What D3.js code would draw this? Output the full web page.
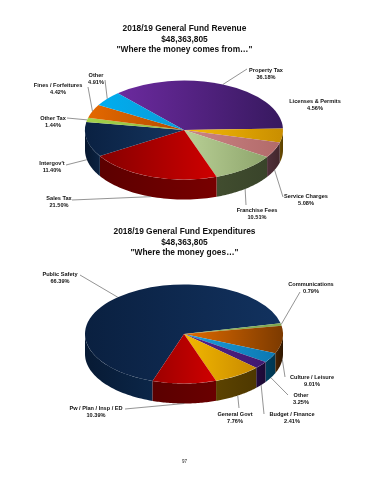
<!DOCTYPE html>
<html>
<head>
<meta charset="utf-8">
<style>
html,body{margin:0;padding:0;background:#fff;}
svg{display:block;filter:blur(0.35px);}
text{font-family:"Liberation Sans",Arial,sans-serif;font-weight:bold;fill:#111;text-anchor:middle;}
</style>
<script src="https://cdn.jsdelivr.net/npm/d3@7"></script>
</head>
<body>
<div id="chart"></div>
<script>
// revenue pie
const revenueNames = ["Property Tax","Licenses & Permits","Service Charges","Franchise Fees","Sales Tax","Intergov't","Other Tax","Fines / Forfeitures","Other"];
const revenueValues = [36.18,4.56,5.08,10.51,21.50,11.40,1.44,4.42,4.91];
const revenueTitle = ["2018/19 General Fund Revenue","$48,363,805","\"Where the money comes from…\""];

// expenditure pie
const expenseNames = ["Public Safety","Communications","Culture / Leisure","Other","Budget / Finance","General Govt","Pw / Plan / Insp / ED"];
const expenseValues = [66.39,0.79,9.01,3.25,2.41,7.76,10.39];
const expenseTitle = ["2018/19 General Fund Expenditures","$48,363,805","\"Where the money goes…\""];

const pageNumber = "97";

// [top face left, top face right, wall left, wall right]
const revenueColors = [
  ["#6c2a9f","#37195f","#2a1248","#2a1248"],
  ["#f5bb08","#c98e00","#6b4d00","#5a4000"],
  ["#cb8585","#b26a6a","#50303a","#43262c"],
  ["#b9d096","#8ea56c","#414d2f","#39442a"],
  ["#860000","#cf0000","#5c0000","#780000"],
  ["#0a2142","#15355f","#06172f","#0b2342"],
  ["#a3d14b","#8fbc3c","#000","#000"],
  ["#e46800","#b44d00","#000","#000"],
  ["#00aeef","#0a9ad8","#000","#000"]
];
const expenseColors = [
  ["#0a2040","#12325f","#071a34","#0b2648"],
  ["#8db85a","#7fa84e","#000","#000"],
  ["#e26c00","#7c3a00","#4a2400","#2e1600"],
  ["#1d9edb","#0c78b2","#003f5e","#003650"],
  ["#54248c","#40186e","#230c40","#1c0a34"],
  ["#f3b800","#c88a00","#5c4300","#4e3800"],
  ["#9c0000","#d00000","#5a0000","#6a0000"]
];

// label placement: [x of text centre, y of first line, elbow x, elbow y] (elbow next to the label)
const revenueLabels = [
  [266,72,247,69],
  [315,103,null,null],
  [306,198,283,197],
  [257,212,246,205],
  [59,200,72,200],
  [52,165,66,165],
  [53,120,67,118],
  [58,87,88,87],
  [96,77,105,80]
];
const expenseLabels = [
  [60,276,80,275],
  [311,286,300,292],
  [312,379,285,377],
  [301,397,288,395],
  [292,416,264,414],
  [235,416,239,408],
  [96,410,125,409]
];

const width = 370, height = 480;
const rx = 99, ry = 49.5, depth = 20;

const svg = d3.select("#chart").append("svg")
  .attr("width",width)
  .attr("height",height);
const defs = svg.append("defs");

function toRad(deg){ return deg*Math.PI/180; }

function addGradient(id,c1,c2){
  const g = defs.append("linearGradient").attr("id",id);
  g.append("stop").attr("offset","0%").attr("stop-color",c1);
  g.append("stop").attr("offset","100%").attr("stop-color",c2);
}

function drawPie(opts){
  const cx = opts.cx, cy = opts.cy;
  const pie = d3.pie().sort(null)
    .startAngle(toRad(opts.start))
    .endAngle(toRad(opts.start+360));
  const slices = pie(opts.values);
  const arc = d3.arc().innerRadius(0).outerRadius(rx);
  // ellipse point for an angle measured clockwise from 12 o'clock
  const px = a => cx+rx*Math.sin(a);
  const py = a => cy-ry*Math.cos(a);

  // title
  svg.append("g").selectAll("text")
    .data(opts.title)
    .enter()
    .append("text")
    .attr("x",184.5)
    .attr("y",(d,i)=>opts.titleY+i*10.6)
    .attr("font-size","8.4px")
    .text(d=>d);

  const line = d3.line().x(d=>d[0]).y(d=>d[1]);

  // walls, only the front half of the cylinder can be seen
  const walls = svg.append("g");
  slices.forEach(function(s,i){
    [0,-2*Math.PI].forEach(function(shift){
      const a0 = Math.max(s.startAngle,Math.PI/2+shift);
      const a1 = Math.min(s.endAngle,3*Math.PI/2+shift);
      if (a1<=a0) return;
      const steps = d3.range(0,41).map(k=>a0+(a1-a0)*k/40);
      const pts = steps.map(a=>[px(a),py(a)])
        .concat(steps.slice().reverse().map(a=>[px(a),py(a)+depth]));
      const id = opts.id+"w"+i+(shift?"b":"");
      addGradient(id,opts.colors[i][2],opts.colors[i][3]);
      walls.append("path")
        .attr("d",line(pts)+"Z")
        .attr("fill","url(#"+id+")");
    });
  });

  // top face
  const face = svg.append("g")
    .attr("transform","translate("+cx+","+cy+") scale(1,"+(ry/rx)+")");
  slices.forEach(function(s,i){
    const id = opts.id+"t"+i;
    addGradient(id,opts.colors[i][0],opts.colors[i][1]);
    face.append("path")
      .attr("d",arc(s))
      .attr("fill","url(#"+id+")");
  });

  // labels and leader lines
  const lab = svg.append("g");
  slices.forEach(function(s,i){
    const l = opts.labels[i];
    const mid = (s.startAngle+s.endAngle)/2;
    const norm = (mid+2*Math.PI)%(2*Math.PI);
    const front = norm>Math.PI/2 && norm<3*Math.PI/2;
    if (l[2]!==null){
      lab.append("path")
        .attr("d",line([[px(mid),py(mid)+(front?depth:0)],[l[2],l[3]]]))
        .attr("fill","none")
        .attr("stroke","#666")
        .attr("stroke-width",0.7);
    }
    lab.append("text")
      .attr("x",l[0])
      .attr("y",l[1])
      .attr("font-size","5.6px")
      .text(opts.names[i]);
    lab.append("text")
      .attr("x",l[0])
      .attr("y",l[1]+6.9)
      .attr("font-size","5.6px")
      .text(d3.format(".2f")(opts.values[i])+"%");
  });
}

drawPie({id:"rev",cx:184,cy:130,start:-42,values:revenueValues,names:revenueNames,
  colors:revenueColors,labels:revenueLabels,title:revenueTitle,titleY:31});
drawPie({id:"exp",cx:184,cy:334,start:-161.5,values:expenseValues,names:expenseNames,
  colors:expenseColors,labels:expenseLabels,title:expenseTitle,titleY:234});

svg.append("text")
  .attr("x",184.5)
  .attr("y",463)
  .attr("font-size","4.5px")
  .style("font-weight","normal")
  .text(pageNumber);
</script>
</body>
</html>
